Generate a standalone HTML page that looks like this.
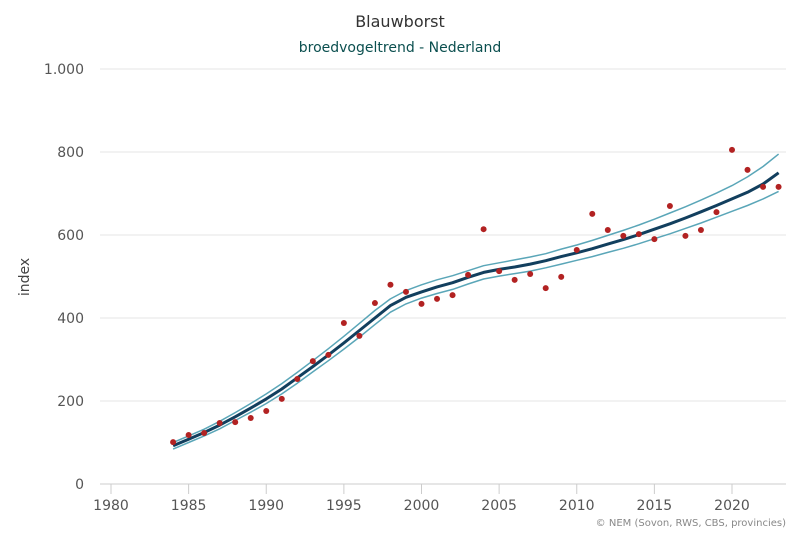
<!DOCTYPE html>
<html><head><meta charset="utf-8"><style>
body{margin:0;background:#fff;font-family:"DejaVu Sans",sans-serif}
svg{display:block;font-family:"DejaVu Sans",sans-serif}
</style></head><body>
<svg id="chart" width="800" height="533">
<text x="400" y="27" text-anchor="middle" font-size="16" fill="#333">Blauwborst</text>
<text x="400" y="52" text-anchor="middle" font-size="14" fill="#0b4f4f">broedvogeltrend - Nederland</text>
<text x="29" y="277" text-anchor="middle" font-size="14" fill="#444" transform="rotate(-90 29 277)">index</text>
<g id="grid"></g><g id="marks"></g>
<text x="786" y="526" text-anchor="end" font-size="10" fill="#888">© NEM (Sovon, RWS, CBS, provincies)</text>
</svg>
<script>
const years=[1984,1985,1986,1987,1988,1989,1990,1991,1992,1993,1994,1995,1996,1997,1998,1999,2000,2001,2002,2003,2004,2005,2006,2007,2008,2009,2010,2011,2012,2013,2014,2015,2016,2017,2018,2019,2020,2021,2022,2023];
const observed=[101,118,123,147,149,159,176,205,253,296,311,388,357,436,480,463,434,446,455,504,614,513,492,506,472,499,564,651,612,598,602,590,670,598,612,655,805,757,716,716];
const trend=[92,108,124,142,162,183,205,229,256,283,311,340,370,400,430,450,463,475,485,498,510,517,523,530,538,548,557,567,578,589,601,614,627,641,656,671,687,703,723,750];
const upper=[100,116,132,151,172,194,217,242,269,297,326,356,387,418,446,466,480,492,502,514,526,533,540,547,555,566,576,587,599,611,624,638,653,668,684,701,719,740,765,795];
const lower=[84,100,116,133,153,173,194,217,243,270,297,325,354,384,414,434,448,459,469,482,494,501,507,513,521,530,539,548,558,568,579,591,603,616,629,643,657,671,687,705];
const yTicks=[0,200,400,600,800,1000];
const yTickLabels=["0","200","400","600","800","1.000"];
const xTicks=[1980,1985,1990,1995,2000,2005,2010,2015,2020];
const ns="http://www.w3.org/2000/svg";
const X=v=>111+(v-1980)*15.525;
const Y=v=>484-v*0.415;
const grid=document.getElementById('grid'),marks=document.getElementById('marks');
function mk(tag,at,parent){const e=document.createElementNS(ns,tag);for(const k in at)e.setAttribute(k,at[k]);parent.appendChild(e);return e;}
yTicks.forEach((t,i)=>{
 const l=mk('line',{x1:100,x2:786,y1:Y(t),y2:Y(t),stroke:t===0?'#ccc':'#e6e6e6'},grid);
 
 
 const tx=mk('text',{x:84,y:Y(t)+5,'text-anchor':'end','font-size':14,fill:'#555'},grid);
 tx.textContent=yTickLabels[i];
 
 
});
xTicks.forEach(t=>{
 const l=mk('line',{x1:X(t),x2:X(t),y1:484,y2:494,stroke:'#ccc'},grid);
 
 
 const tx=mk('text',{x:X(t),y:510,'text-anchor':'middle','font-size':14,fill:'#555'},grid);
 tx.textContent=t;
 
 
});
function line(arr,color,w,name){
 const d=arr.map((v,i)=>(i?'L':'M')+X(years[i]).toFixed(1)+','+Y(v).toFixed(1)).join('');
 const p=mk('path',{d:d,fill:'none',stroke:color,'stroke-width':w,'stroke-linejoin':'round'},marks);
 
 
}
line(upper,'#5aa6b8',1.5,'upper-bound-line');
line(lower,'#5aa6b8',1.5,'lower-bound-line');
line(trend,'#123f5e',3,'trend-line');
observed.forEach((v,i)=>{
 const c=mk('circle',{cx:X(years[i]),cy:Y(v),r:3,fill:'#b22222'},marks);
 
 
});
</script>
</body></html>
